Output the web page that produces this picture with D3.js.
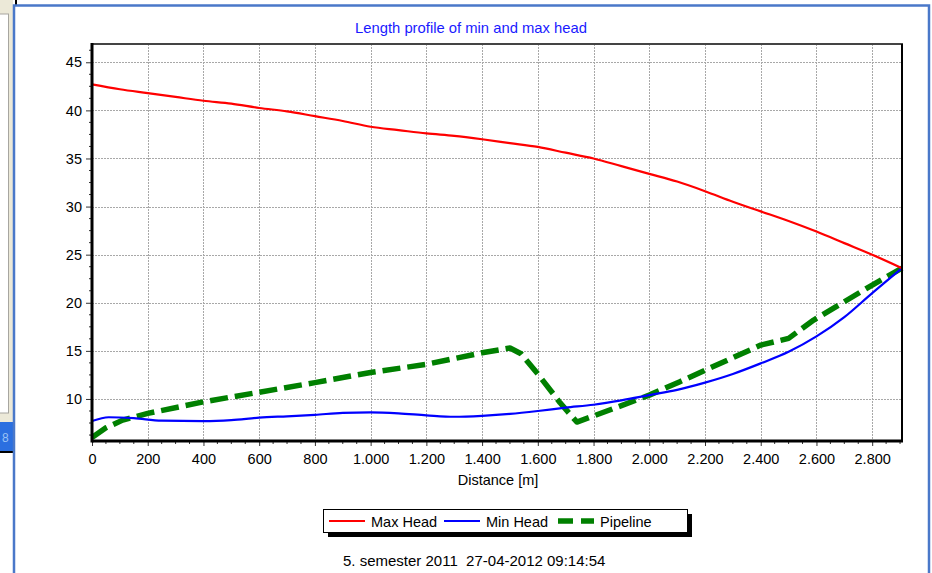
<!DOCTYPE html>
<html>
<head>
<meta charset="utf-8">
<script src="https://d3js.org/d3.v7.min.js"></script>
<style>
  body { margin: 0; background: #fff; }
  svg { display: block; font-family: "Liberation Sans", Arial, sans-serif; }
</style>
</head>
<body>
<div id="chart"></div>
<script>
// distances [m] and heads [m]
var maxDist = [0, 100, 200, 300, 400, 500, 600, 700, 800, 900, 1000, 1100, 1200, 1300, 1400, 1500,
               1600, 1700, 1800, 1900, 2000, 2100, 2200, 2300, 2400, 2500, 2600, 2700, 2800, 2907];
var maxHead = [42.7, 42.2, 41.8, 41.4, 41.0, 40.7, 40.25, 39.9, 39.4, 38.9, 38.3, 37.95, 37.6, 37.35, 37.0, 36.6,
               36.2, 35.6, 35.0, 34.2, 33.4, 32.6, 31.6, 30.5, 29.5, 28.5, 27.4, 26.2, 25.0, 23.6];

var minDist = [0, 60, 150, 250, 400, 500, 600, 700, 800, 900, 1000, 1100, 1200, 1300, 1400, 1500,
               1600, 1700, 1800, 1900, 2000, 2100, 2200, 2300, 2400, 2500, 2600, 2700, 2800, 2907];
var minHead = [7.7, 8.1, 8.0, 7.75, 7.7, 7.8, 8.05, 8.2, 8.35, 8.55, 8.6, 8.5, 8.3, 8.15, 8.25, 8.45,
               8.75, 9.1, 9.4, 9.85, 10.4, 10.95, 11.7, 12.6, 13.7, 14.9, 16.5, 18.5, 21.0, 23.6];

var pipeDist = [0, 50, 110, 200, 400, 600, 800, 1000, 1200, 1400, 1500, 1540, 1600, 1680, 1740,
                1900, 2000, 2110, 2400, 2500, 2590, 2780, 2907];
var pipeline = [6.0, 7.0, 7.8, 8.5, 9.7, 10.7, 11.7, 12.75, 13.6, 14.8, 15.3, 14.7, 12.6, 9.6, 7.6,
                9.3, 10.4, 11.8, 15.6, 16.3, 18.2, 21.5, 23.6];

var xTicks = d3.range(0, 2801, 200);
var yTicks = [10, 15, 20, 25, 30, 35, 40, 45];

var title = "Length profile of min and max head";
var xLabel = "Distance [m]";
var footer = "5. semester 2011  27-04-2012 09:14:54";
var seriesNames = ["Max Head", "Min Head", "Pipeline"];

var W = 932, H = 573;
var plot = {left: 92, top: 44, right: 902, bottom: 441};

var svg = d3.select("#chart").append("svg").attr("width", W).attr("height", H);

// ---- window chrome around the chart ----
svg.append("rect").attr("x", 0).attr("y", 0).attr("width", 13).attr("height", H).attr("fill", "#ece9d8");
svg.append("rect").attr("x", -1).attr("y", 14).attr("width", 9.5).attr("height", 399)
   .attr("fill", "#fff").attr("stroke", "#a7a6a0");
svg.append("rect").attr("x", 0).attr("y", 422).attr("width", 13).attr("height", 29).attr("fill", "#2b6fe0");
svg.append("text").attr("x", 2).attr("y", 442).attr("font-size", 12).attr("fill", "#9cc3f5").text("8");
svg.append("rect").attr("x", 0).attr("y", 451).attr("width", 13).attr("height", 2).attr("fill", "#000");
svg.append("rect").attr("x", 0).attr("y", 453).attr("width", 13).attr("height", H - 453).attr("fill", "#fff");
svg.append("rect").attr("x", 15).attr("y", 0).attr("width", 2).attr("height", 5).attr("fill", "#000");
svg.append("path")
   .attr("d", "M14,600 V5.5 H929 V600")
   .attr("fill", "none").attr("stroke", "#4a78c9").attr("stroke-width", 2.5);

// ---- scales ----
var x = d3.scaleLinear().domain([0, 2907]).range([plot.left, plot.right]);
var y = d3.scaleLinear().domain([5.63, 46.9]).range([plot.bottom, plot.top]);

var loc = d3.formatLocale({decimal: ",", thousands: ".", grouping: [3], currency: ["", ""]});
var fmt = loc.format(",d");

// grid
var grid = svg.append("g").attr("stroke", "#a8a8a8").attr("stroke-dasharray", "2,1").attr("stroke-width", 1);
xTicks.filter(function(d) { return d > 0; }).forEach(function(d) {
  grid.append("line").attr("x1", Math.round(x(d)) + 0.5).attr("x2", Math.round(x(d)) + 0.5)
      .attr("y1", plot.top).attr("y2", plot.bottom);
});
yTicks.forEach(function(d) {
  grid.append("line").attr("y1", Math.round(y(d)) + 0.5).attr("y2", Math.round(y(d)) + 0.5)
      .attr("x1", plot.left).attr("x2", plot.right);
});

// minor ticks
var minor = svg.append("g").attr("stroke", "#333").attr("stroke-width", 1);
d3.range(50, 2907, 50).forEach(function(d) {
  if (d % 200 === 0) return;
  minor.append("line").attr("x1", x(d)).attr("x2", x(d)).attr("y1", plot.bottom).attr("y2", plot.bottom + 3);
});
d3.range(6.25, 46.9, 1.25).forEach(function(d) {
  if (Math.abs(d % 5) < 1e-6) return;
  minor.append("line").attr("y1", y(d)).attr("y2", y(d)).attr("x1", plot.left - 3).attr("x2", plot.left);
});

// axes
var xAxis = d3.axisBottom(x).tickValues(xTicks).tickFormat(fmt).tickSize(5).tickPadding(8);
var yAxis = d3.axisLeft(y).tickValues(yTicks).tickSize(6).tickPadding(4);

var gx = svg.append("g").attr("transform", "translate(0," + plot.bottom + ")").call(xAxis);
var gy = svg.append("g").attr("transform", "translate(" + plot.left + ",0)").call(yAxis);
[gx, gy].forEach(function(g) {
  g.select(".domain").remove();
  g.selectAll(".tick line").attr("stroke", "#333");
  g.selectAll(".tick text").attr("font-size", 14.5).attr("fill", "#000")
   .attr("font-family", "'Liberation Sans', Arial, sans-serif");
});

// data lines
function line(xs) {
  return d3.line().x(function(d, i) { return x(xs[i]); }).y(function(d) { return y(d); });
}

var plotArea = svg.append("g");
plotArea.append("path").attr("d", line(pipeDist)(pipeline))
   .attr("fill", "none").attr("stroke", "#008000").attr("stroke-width", 5.5)
   .attr("stroke-dasharray", "18,7").attr("stroke-linejoin", "round");
plotArea.append("path").attr("d", line(minDist).curve(d3.curveMonotoneX)(minHead))
   .attr("fill", "none").attr("stroke", "#0000ff").attr("stroke-width", 2.2);
plotArea.append("path").attr("d", line(maxDist).curve(d3.curveMonotoneX)(maxHead))
   .attr("fill", "none").attr("stroke", "#ff0000").attr("stroke-width", 2.2);

// frame
svg.append("line").attr("x1", plot.left).attr("x2", plot.right + 1).attr("y1", plot.top).attr("y2", plot.top)
   .attr("stroke", "#444").attr("stroke-width", 2.2);
svg.append("line").attr("x1", plot.right).attr("x2", plot.right).attr("y1", plot.top).attr("y2", plot.bottom)
   .attr("stroke", "#000").attr("stroke-width", 2);
svg.append("line").attr("x1", plot.left).attr("x2", plot.right + 1).attr("y1", plot.bottom).attr("y2", plot.bottom)
   .attr("stroke", "#000").attr("stroke-width", 3);
svg.append("line").attr("x1", plot.left).attr("x2", plot.left).attr("y1", plot.top - 1).attr("y2", plot.bottom + 1.5)
   .attr("stroke", "#000").attr("stroke-width", 3);

// texts
svg.append("text").attr("x", 471).attr("y", 33).attr("text-anchor", "middle")
   .attr("font-size", 14.8).attr("fill", "#1a1aff").text(title);
svg.append("text").attr("x", 498).attr("y", 485).attr("text-anchor", "middle")
   .attr("font-size", 14.5).attr("fill", "#000").text(xLabel);
svg.append("text").attr("x", 343).attr("y", 566).style("white-space", "pre")
   .attr("font-size", 15).attr("fill", "#000").text(footer);

// legend
var lg = svg.append("g");
lg.append("rect").attr("x", 328).attr("y", 514).attr("width", 364).attr("height", 23).attr("fill", "#000");
lg.append("rect").attr("x", 323.5).attr("y", 509.5).attr("width", 364).attr("height", 23)
  .attr("fill", "#fff").attr("stroke", "#000");
var legendItems = [
  {x: 329, color: "#ff0000", w: 2.2, dash: null},
  {x: 444, color: "#0000ff", w: 2.2, dash: null},
  {x: 558, color: "#008000", w: 5.5, dash: "15,8"}
];
legendItems.forEach(function(it, i) {
  lg.append("line").attr("x1", it.x).attr("x2", it.x + 36).attr("y1", 521).attr("y2", 521)
    .attr("stroke", it.color).attr("stroke-width", it.w).attr("stroke-dasharray", it.dash);
  lg.append("text").attr("x", it.x + 42).attr("y", 526.5).attr("font-size", 14.5).attr("fill", "#000")
    .text(seriesNames[i]);
});
</script>
</body>
</html>
